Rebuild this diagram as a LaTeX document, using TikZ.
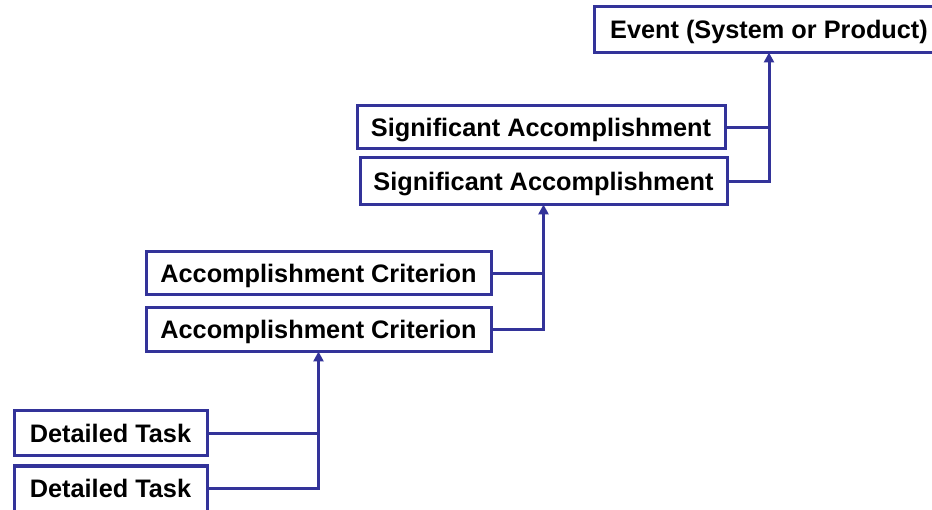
\documentclass[tikz,border=0pt]{standalone}
\usepackage{fontspec}
\setmainfont{Liberation Sans}
\usetikzlibrary{arrows.meta}
\definecolor{linkblue}{HTML}{333399}
\tikzset{
  box/.style={draw=linkblue, line width=3pt, fill=white, inner sep=0pt,
    font=\fontsize{25.3}{29}\selectfont\bfseries, text=black,
    text height=18pt, text depth=0pt},
  link/.style={draw=linkblue, line width=3pt},
  uplink/.style={link, -{Triangle[length=10pt,width=10pt]}}
}
\begin{document}
\begin{tikzpicture}[x=1pt,y=-1pt]
\useasboundingbox (0,0) rectangle (932,510);
% boxes, from top level down
\node[box, minimum width=350, minimum height=46] (ev)  at (769,30)    {Event (System or Product)};
\node[box, minimum width=368, minimum height=43] (sa1) at (541,127.5) {Significant Accomplishment};
\node[box, minimum width=367, minimum height=47] (sa2) at (543.5,181.5) {Significant Accomplishment};
\node[box, minimum width=345, minimum height=43] (ac1) at (318.5,273.5) {Accomplishment Criterion};
\node[box, minimum width=345, minimum height=44] (ac2) at (318.5,330) {Accomplishment Criterion};
\node[box, minimum width=193, minimum height=45] (dt1) at (110.5,433.5) {Detailed Task};
\node[box, minimum width=193, minimum height=45] (dt2) at (110.5,488.5) {Detailed Task};
% connectors: each pair joins and rises to its parent
\draw[link] (sa1.east) -- (sa1.east -| ev.south);
\draw[uplink] (sa2.east) -| ([yshift=2pt]ev.south);
\draw[link] (ac1.east) -- (ac1.east -| sa2.south);
\draw[uplink] (ac2.east) -| ([yshift=2pt]sa2.south);
\draw[link] (dt1.east) -- (dt1.east -| ac2.south);
\draw[uplink] (dt2.east) -| ([yshift=2pt]ac2.south);
\end{tikzpicture}
\end{document}
